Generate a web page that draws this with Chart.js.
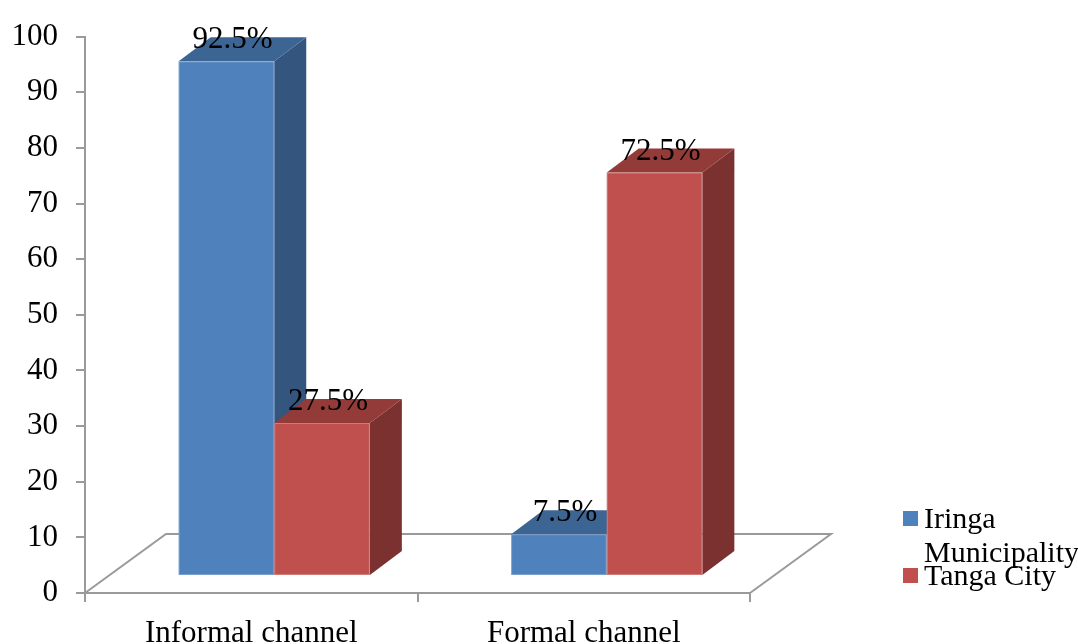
<!DOCTYPE html>
<html>
<head>
<meta charset="utf-8">
<script src="https://cdn.jsdelivr.net/npm/chart.js@4/dist/chart.umd.min.js"></script>
<style>
  html, body { margin: 0; padding: 0; background: #fff; }
  #wrap { width: 1078px; height: 644px; position: relative; }
</style>
</head>
<body>
<div id="wrap"><canvas id="c" width="1078" height="644"></canvas></div>
<script>
// Share of respondents by remittance channel (%)
const categories = ['Informal channel', 'Formal channel'];
const seriesNames = ['Iringa Municipality', 'Tanga City'];
const iringaValues = [92.5, 7.5];
const tangaValues = [27.5, 72.5];
const yTicks = [0, 10, 20, 30, 40, 50, 60, 70, 80, 90, 100];

const FONT = '"Liberation Serif", "Times New Roman", serif';
const AXIS_GRAY = '#9a9a9a';

// face colours: front, top, side
const palette = [
  { front: '#4f81bd', top: '#3d6594', side: '#34557d' },
  { front: '#c0504d', top: '#933b39', side: '#7a3130' }
];

// floor depth (px) and bar placement within it
const FLOOR_DX = 81, FLOOR_DY = 59;
const BAR_SHIFT_X = 23, BAR_SHIFT_Y = 17;
const BAR_DEPTH_X = 32, BAR_DEPTH_Y = 24;

const floorPlugin = {
  id: 'floor3d',
  beforeDatasetsDraw(chart) {
    const { ctx, chartArea: a } = chart;
    ctx.save();
    ctx.strokeStyle = AXIS_GRAY;
    ctx.lineWidth = 2;
    ctx.beginPath();
    ctx.moveTo(a.left, a.bottom);
    ctx.lineTo(a.left + FLOOR_DX, a.bottom - FLOOR_DY);
    ctx.lineTo(a.right + FLOOR_DX, a.bottom - FLOOR_DY);
    ctx.lineTo(a.right, a.bottom);
    ctx.stroke();
    ctx.restore();
  }
};

const bars3dPlugin = {
  id: 'bars3d',
  afterDatasetsDraw(chart) {
    const ctx = chart.ctx;
    const nCat = categories.length;
    for (let j = 0; j < nCat; j++) {
      chart.data.datasets.forEach((ds, i) => {
        const el = chart.getDatasetMeta(i).data[j];
        const c = palette[i];
        const left = el.x - el.width / 2 + BAR_SHIFT_X;
        const right = el.x + el.width / 2 + BAR_SHIFT_X;
        const top = el.y - BAR_SHIFT_Y;
        const bottom = el.base - BAR_SHIFT_Y;
        ctx.save();
        ctx.lineJoin = 'round';
        // side face
        ctx.fillStyle = c.side;
        ctx.beginPath();
        ctx.moveTo(right, bottom);
        ctx.lineTo(right + BAR_DEPTH_X, bottom - BAR_DEPTH_Y);
        ctx.lineTo(right + BAR_DEPTH_X, top - BAR_DEPTH_Y);
        ctx.lineTo(right, top);
        ctx.closePath();
        ctx.fill();
        // top face
        ctx.fillStyle = c.top;
        ctx.beginPath();
        ctx.moveTo(left, top);
        ctx.lineTo(left + BAR_DEPTH_X, top - BAR_DEPTH_Y);
        ctx.lineTo(right + BAR_DEPTH_X, top - BAR_DEPTH_Y);
        ctx.lineTo(right, top);
        ctx.closePath();
        ctx.fill();
        // front face
        ctx.fillStyle = c.front;
        ctx.fillRect(left, top, right - left, bottom - top);
        ctx.strokeStyle = 'rgba(255,255,255,0.25)';
        ctx.lineWidth = 1;
        ctx.strokeRect(left + 0.5, top + 0.5, right - left - 1, bottom - top - 1);
        ctx.restore();
      });
    }
    // value labels
    ctx.save();
    ctx.font = '31px ' + FONT;
    ctx.fillStyle = '#000';
    ctx.textAlign = 'center';
    ctx.textBaseline = 'alphabetic';
    chart.data.datasets.forEach((ds, i) => {
      chart.getDatasetMeta(i).data.forEach((el, j) => {
        const cx = el.x + BAR_SHIFT_X + 6;
        const y = el.y - BAR_SHIFT_Y - 13;
        ctx.fillText(ds.data[j].toFixed(1) + '%', cx, y);
      });
    });
    ctx.restore();
  }
};

// legend on the right, first entry wrapped onto two lines
const legendPlugin = {
  id: 'sideLegend',
  afterDraw(chart) {
    const ctx = chart.ctx;
    ctx.save();
    ctx.font = '30px ' + FONT;
    ctx.textBaseline = 'alphabetic';
    const x0 = 903, textX = 924, box = 15;
    const entries = [
      { color: palette[0].front, lines: ['Iringa', 'Municipality'], y: 528 },
      { color: palette[1].front, lines: ['Tanga City'], y: 585 }
    ];
    entries.forEach(e => {
      ctx.fillStyle = e.color;
      ctx.fillRect(x0, e.y - 17, box, box);
      ctx.fillStyle = '#000';
      e.lines.forEach((ln, m) => ctx.fillText(ln, textX, e.y + m * 34));
    });
    ctx.restore();
  }
};

new Chart(document.getElementById('c'), {
  type: 'bar',
  data: {
    labels: categories,
    datasets: [
      { label: seriesNames[0], data: iringaValues, backgroundColor: 'rgba(0,0,0,0)' },
      { label: seriesNames[1], data: tangaValues, backgroundColor: 'rgba(0,0,0,0)' }
    ]
  },
  options: {
    responsive: false,
    animation: false,
    events: [],
    layout: { padding: { left: 0, right: 328, top: 36, bottom: 0 } },
    datasets: { bar: { categoryPercentage: 0.575, barPercentage: 1 } },
    plugins: { legend: { display: false }, tooltip: { enabled: false } },
    scales: {
      x: {
        grid: { drawOnChartArea: false, drawTicks: true, tickLength: 9, color: AXIS_GRAY, lineWidth: 2, offset: true },
        border: { color: AXIS_GRAY, width: 2 },
        ticks: { color: '#000', font: { family: FONT, size: 31 }, padding: 13, maxRotation: 0 },
        afterFit(s) { s.height = 51; }
      },
      y: {
        min: 0, max: 100,
        afterBuildTicks(s) { s.ticks = yTicks.map(v => ({ value: v })); },
        grid: { drawOnChartArea: false, drawTicks: true, tickLength: 9, color: AXIS_GRAY, lineWidth: 2 },
        border: { color: AXIS_GRAY, width: 2 },
        ticks: { color: '#000', font: { family: FONT, size: 31 }, padding: 18 },
        afterFit(s) { s.width = 85; }
      }
    }
  },
  plugins: [floorPlugin, bars3dPlugin, legendPlugin]
});
</script>
</body>
</html>
